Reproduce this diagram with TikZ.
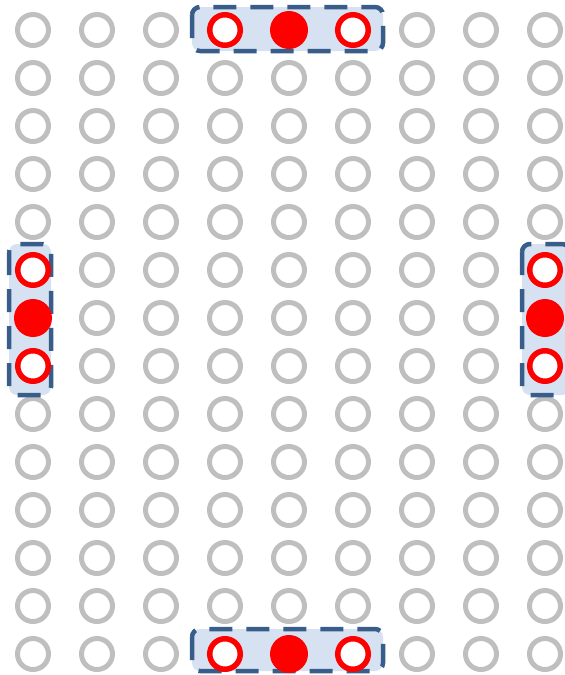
\documentclass[tikz,border=0pt]{standalone}
\definecolor{ringgray}{HTML}{BFBFBF}
\definecolor{boxfill}{HTML}{D6E1F1}
\definecolor{boxedge}{HTML}{385D8A}
\begin{document}
\begin{tikzpicture}[x=1pt,y=-1pt,
  gring/.style={circle,draw=ringgray,line width=5pt,minimum size=31pt,inner sep=0pt},
  rring/.style={circle,draw=red,fill=white,line width=5.5pt,minimum size=30.5pt,inner sep=0pt},
  rdot/.style={circle,fill=red,minimum size=38pt,inner sep=0pt},
  dbox/.style={draw=boxedge,fill=boxfill,line width=4.5pt,rounded corners=8pt,dash pattern=on 23pt off 14pt}]
\useasboundingbox (0,0) rectangle (565,675);
% gray grid
\foreach \c in {0,...,8}{
  \foreach \r in {0,...,13}{
    \pgfmathsetmacro{\xx}{33+64*\c}
    \pgfmathsetmacro{\yy}{30+48*\r}
    \node[gring] (g-\c-\r) at (\xx,\yy) {};
  }
}
% boxes
\path[dbox] (192,7) rectangle (383,51);
\path[dbox] (192,629) rectangle (383,671);
\path[dbox] (9,244) rectangle (51,395);
\path[dbox] (522,244) rectangle (570,395);
% top
\node[rring] (t1) at (225,30) {};
\node[rdot]  (t2) at (289,30) {};
\node[rring] (t3) at (353,30) {};
% bottom
\node[rring] (b1) at (225,654) {};
\node[rdot]  (b2) at (289,654) {};
\node[rring] (b3) at (353,654) {};
% left
\node[rring] (l1) at (33,270) {};
\node[rdot]  (l2) at (33,318) {};
\node[rring] (l3) at (33,366) {};
% right
\node[rring] (r1) at (545,270) {};
\node[rdot]  (r2) at (545,318) {};
\node[rring] (r3) at (545,366) {};
\end{tikzpicture}
\end{document}
